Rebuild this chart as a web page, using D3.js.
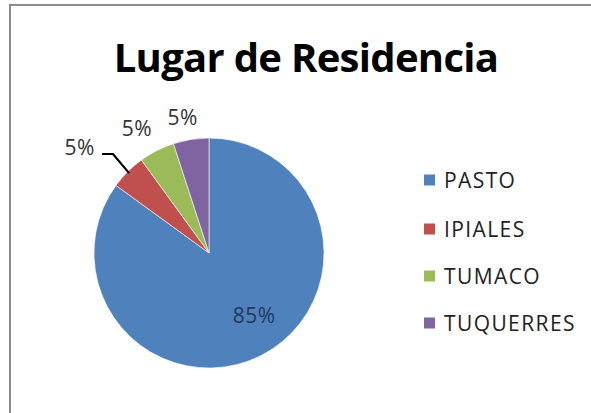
<!DOCTYPE html>
<html><head><meta charset="utf-8">
<script src="https://cdn.jsdelivr.net/npm/d3@7"></script>
<style>body{margin:0;background:#fff}svg{display:block}</style>
</head><body>
<svg id="c" width="591" height="413"></svg>
<script>
const categories = ["PASTO", "IPIALES", "TUMACO", "TUQUERRES"];
const values = [85, 5, 5, 5];
const labels = ["85%", "5%", "5%", "5%"];
const colors = ["#4f81bd", "#c0504d", "#9bbb59", "#8064a2"];

const svg = d3.select("#c");
svg.append("path").attr("d", "M10,413 V5 H591").attr("fill", "none").attr("stroke", "#8c8c8c").attr("stroke-width", 2);

svg.append("text").attr("x", 306).attr("y", 72).attr("text-anchor", "middle")
  .attr("font-family", "Open Sans, sans-serif").attr("font-weight", "bold").attr("font-size", 40)
  .attr("letter-spacing", -0.7).attr("fill", "#000").text("Lugar de Residencia");

const cx = 209, cy = 253, R = 115;
const pie = d3.pie().sort(null).value(d => d)(values);
const arc = d3.arc().innerRadius(0).outerRadius(R);
const g = svg.append("g").attr("transform", `translate(${cx},${cy})`);
g.selectAll("path").data(pie).join("path")
  .attr("d", arc).attr("fill", (d, i) => colors[i])
  .attr("stroke", "#ffffff").attr("stroke-width", 0.6);

const labelPos = [{r: 77, off: -9}, {r: 167, off: -5.7}, {r: 144, off: -3}, {r: 138, off: -2}];
const font = "Open Sans, sans-serif";
const polar = (a, r) => [Math.sin(a) * r, -Math.cos(a) * r];
pie.forEach((d, i) => {
  const mid = (d.startAngle + d.endAngle) / 2 + labelPos[i].off * Math.PI / 180;
  const [x, y] = polar(mid, labelPos[i].r);
  g.append("text").attr("x", x).attr("y", y).attr("dy", "0.36em").attr("text-anchor", "middle")
    .attr("font-family", font).attr("font-size", 21).attr("letter-spacing", 0.6)
    .attr("fill", i === 0 ? "#1f3a5f" : "#333").text(labels[i]);
});
{
  const d = pie[1];
  const mid = (d.startAngle + d.endAngle) / 2;
  const [ex, ey] = polar(mid, R - 2);
  g.append("path").attr("d", `M${102 - cx},${154 - cy} H${113 - cx} L${ex},${ey}`)
    .attr("fill", "none").attr("stroke", "#000").attr("stroke-width", 2.2);
}

const ly = [180, 229, 276, 323];
const lg = svg.append("g");
categories.forEach((c, i) => {
  lg.append("rect").attr("x", 424).attr("y", ly[i] - 5.5).attr("width", 11).attr("height", 11).attr("fill", colors[i]);
  lg.append("text").attr("x", 444).attr("y", ly[i]).attr("dy", "0.36em")
    .attr("font-family", font).attr("font-size", 21).attr("letter-spacing", 1.4)
    .attr("fill", "#222").text(c);
});
</script>
</body></html>
